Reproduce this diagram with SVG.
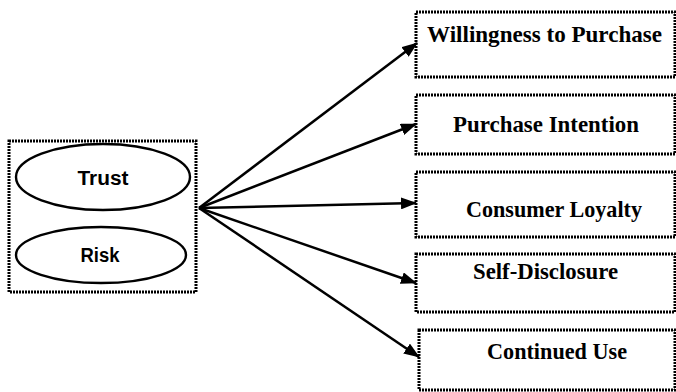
<svg xmlns="http://www.w3.org/2000/svg" width="676" height="392" viewBox="0 0 676 392">
  <style>
    .frame { fill: #ffffff; stroke: #000000; stroke-width: 3; stroke-dasharray: 2 1; }
    .oval { fill: #ffffff; stroke: #000000; stroke-width: 2.4; }
    .in { font-family: "Liberation Sans", Arial, sans-serif; font-weight: bold; font-size: 20px; text-anchor: middle; fill: #000000; }
    .out { font-family: "Liberation Serif", "Times New Roman", serif; font-weight: bold; font-size: 22.5px; fill: #000000; }
    .link { stroke: #000000; stroke-width: 2.5; fill: none; marker-end: url(#head); }
  </style>
  <defs>
    <marker id="head" viewBox="0 0 16 12" refX="15" refY="6" markerWidth="16" markerHeight="12" markerUnits="userSpaceOnUse" orient="auto">
      <path d="M0,0 L16,6 L0,12 Z" fill="#000000"/>
    </marker>
  </defs>
  <rect width="676" height="392" fill="#ffffff"/>

  <!-- predictors -->
  <g id="predictors">
    <rect class="frame" x="9" y="141" width="187" height="151"/>
  </g>
  <g id="trust">
    <ellipse class="oval" cx="103" cy="177" rx="87" ry="33"/>
    <text class="in" x="103" y="185" textLength="51" lengthAdjust="spacingAndGlyphs">Trust</text>
  </g>
  <g id="risk">
    <ellipse class="oval" cx="101" cy="255" rx="85" ry="28"/>
    <text class="in" x="100" y="262" textLength="39" lengthAdjust="spacingAndGlyphs">Risk</text>
  </g>

  <!-- outcomes -->
  <g id="willingness">
    <rect class="frame" x="416" y="12" width="259" height="65"/>
    <text class="out" x="427" y="42" textLength="235" lengthAdjust="spacingAndGlyphs">Willingness to Purchase</text>
  </g>
  <g id="intention">
    <rect class="frame" x="416" y="95" width="259" height="59"/>
    <text class="out" x="453" y="132" textLength="186" lengthAdjust="spacingAndGlyphs">Purchase Intention</text>
  </g>
  <g id="loyalty">
    <rect class="frame" x="416" y="172" width="259" height="65"/>
    <text class="out" x="466" y="217" textLength="176" lengthAdjust="spacingAndGlyphs">Consumer Loyalty</text>
  </g>
  <g id="disclosure">
    <rect class="frame" x="416" y="254" width="259" height="58"/>
    <text class="out" x="473" y="279" textLength="145" lengthAdjust="spacingAndGlyphs">Self-Disclosure</text>
  </g>
  <g id="continued">
    <rect class="frame" x="419" y="330" width="256" height="60"/>
    <text class="out" x="487" y="359" textLength="140" lengthAdjust="spacingAndGlyphs">Continued Use</text>
  </g>

  <!-- connectors -->
  <g id="connectors">
    <line class="link" x1="199" y1="208" x2="417" y2="43"/>
    <line class="link" x1="199" y1="208" x2="416" y2="124"/>
    <line class="link" x1="199" y1="208" x2="416" y2="203"/>
    <line class="link" x1="199" y1="208" x2="416" y2="283"/>
    <line class="link" x1="199" y1="208" x2="419" y2="357"/>
  </g>
</svg>
